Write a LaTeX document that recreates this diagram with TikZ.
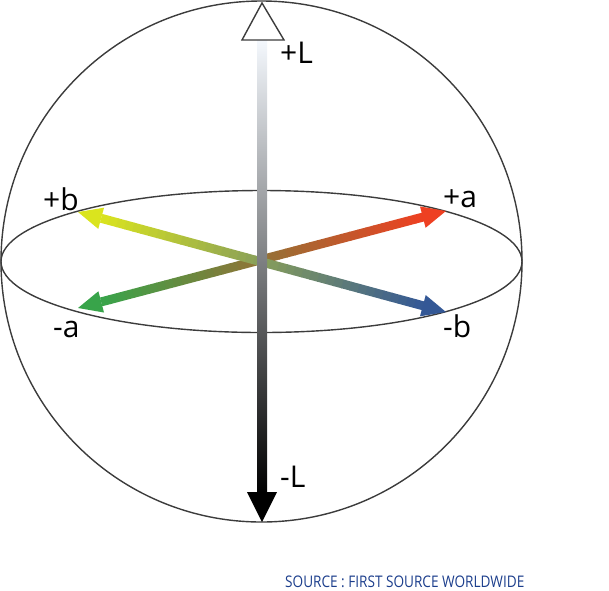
\documentclass[tikz,border=0pt]{standalone}
\usepackage{fontspec}
\setmainfont{Open Sans}
\usepackage{xcolor}
\usepackage{graphicx}
\usepackage{tikz}
\usetikzlibrary{calc}

\definecolor{plusa}{RGB}{238,64,34}
\definecolor{minusa}{RGB}{56,164,74}
\definecolor{plusb}{RGB}{218,228,30}
\definecolor{minusb}{RGB}{52,88,150}
\definecolor{rim}{RGB}{60,60,60}
\definecolor{paleL}{RGB}{244,248,253}
\definecolor{midL}{RGB}{196,196,198}
\definecolor{srcblue}{RGB}{28,62,140}

% double headed arrow, colour running from one tip to the other
\newcommand{\gradarrow}[4]{
	\coordinate (h1) at ($(#1)!24pt!(#2)$);
	\coordinate (h2) at ($(#2)!24pt!(#1)$);
	\foreach \k in {0,...,39}{
		\pgfmathsetmacro{\ta}{\k/40}
		\pgfmathsetmacro{\tb}{(\k+1)/40}
		\pgfmathsetmacro{\pc}{100-(\k+0.5)*2.5}
		\draw[shaft,color=#3!\pc!#4] ($(h1)!\ta!(h2)$) -- ($(h1)!\tb!(h2)$);
	}
	\fill[#3] (#1) -- ($(h1)!11pt!90:(#1)$) -- ($(h1)!11pt!-90:(#1)$) -- cycle;
	\fill[#4] (#2) -- ($(h2)!11pt!90:(#2)$) -- ($(h2)!11pt!-90:(#2)$) -- cycle;
}

\begin{document}
\begin{tikzpicture}[x=1pt,y=-1pt]
	\tikzstyle{shaft}=[line width=9pt,shorten >=-0.6pt]
	\tikzstyle{rimline}=[draw=rim,line width=1.4pt]
	\tikzstyle{axislabel}=[anchor=base west,inner sep=0pt,font=\fontsize{30}{30}\selectfont]
	
	\useasboundingbox (0,0) rectangle (609,590);
	
	\coordinate (O) at (261.5,261.5);
	\coordinate (Ltop) at (262,3);
	\coordinate (Lbot) at (262,522);
	\coordinate (ma) at (78,308);
	\coordinate (pa) at (446,211);
	\coordinate (pb) at (78,212);
	\coordinate (mb) at (446,312);
	
	\draw[rimline] (O) circle (260.5);
	\draw[rimline] (O) ellipse (260.5 and 71);
	
	\gradarrow{ma}{pa}{minusa}{plusa}
	\gradarrow{pb}{mb}{plusb}{minusb}
	
	% lightness axis
	\shade[top color=paleL,middle color=midL,bottom color=black]
		(257,40) rectangle (267,493);
	\fill[black] (Lbot) -- (247,492) -- (277,492) -- cycle;
	\draw[fill=white,draw=rim,line width=1.4pt,line join=miter]
		(Ltop) -- (284,40) -- (242,40) -- cycle;
	
	\node[axislabel] (Lp) at (280,63) {+L};
	\node[axislabel] (Lm) at (280,487) {-L};
	\node[axislabel] (ap) at (443,207) {+a};
	\node[axislabel] (am) at (53,337) {-a};
	\node[axislabel] (bp) at (43,210) {+b};
	\node[axislabel] (bm) at (443,337) {-b};
	
	\node[anchor=base west,inner sep=0pt,text=srcblue,font=\fontsize{16}{16}\selectfont]
		(src) at (285,587) {\scalebox{0.85}[1]{SOURCE : FIRST SOURCE WORLDWIDE}};
\end{tikzpicture}
\end{document}
